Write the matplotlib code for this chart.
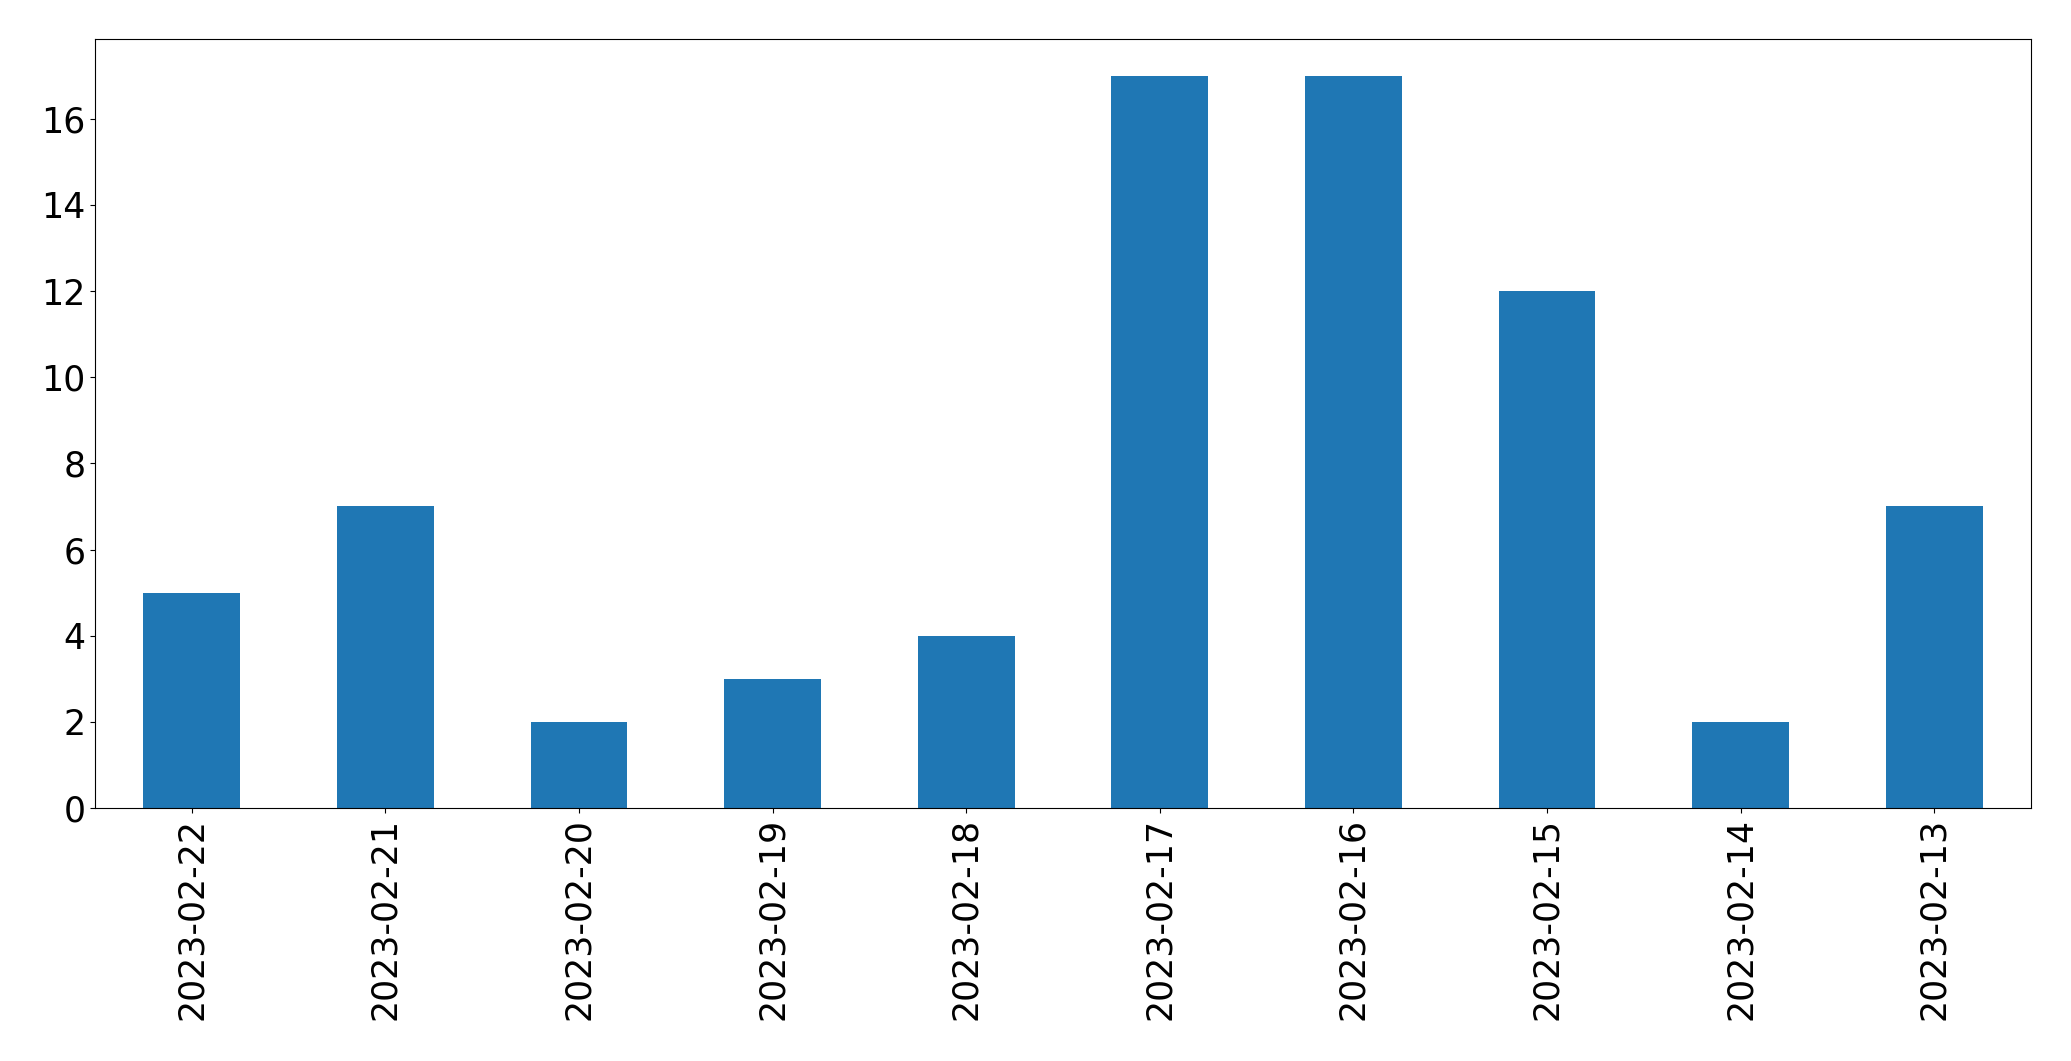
import matplotlib
matplotlib.use("Agg")
import matplotlib.pyplot as plt
import numpy as np

dates = ["2023-02-22", "2023-02-21", "2023-02-20", "2023-02-19", "2023-02-18",
         "2023-02-17", "2023-02-16", "2023-02-15", "2023-02-14", "2023-02-13"]
counts = [5, 7, 2, 3, 4, 17, 17, 12, 2, 7]

fig = plt.figure(figsize=(20.71, 10.61), dpi=100)
ax = fig.add_axes([95/2071, 1 - 808/1061, (2031-95)/2071, (808-39)/1061])
x = np.arange(len(dates))
ax.bar(x, counts, width=0.5, color="#1f77b4")
ax.set_xlim(-0.5, len(dates) - 0.5)
ax.set_xticks(x)
ax.set_xticklabels(dates, rotation=90)
ax.tick_params(labelsize=25)
fig.savefig("out.png", dpi=100)
